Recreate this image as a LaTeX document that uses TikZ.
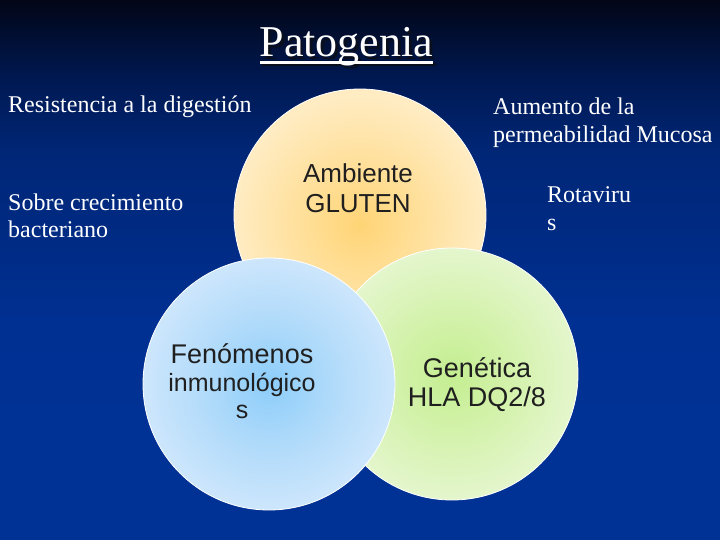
\documentclass[tikz,border=0pt]{standalone}
\usepackage{fontspec}
\setmainfont{Liberation Serif}
\newfontfamily\arialf{Liberation Sans}
\definecolor{bg0}{RGB}{2,6,22}
\definecolor{bg1}{RGB}{0,24,80}
\definecolor{bg2}{RGB}{0,38,118}
\definecolor{bg3}{RGB}{0,48,146}
\definecolor{bg4}{RGB}{0,50,150}
\definecolor{orA}{RGB}{255,212,118}
\definecolor{orM}{RGB}{255,224,155}
\definecolor{orB}{RGB}{255,236,195}
\definecolor{blA}{RGB}{140,205,250}
\definecolor{blM}{RGB}{175,218,250}
\definecolor{blB}{RGB}{205,230,252}
\definecolor{grA}{RGB}{196,238,145}
\definecolor{grM}{RGB}{212,242,172}
\definecolor{grB}{RGB}{228,246,205}
\definecolor{shad}{RGB}{10,15,30}
\pgfdeclareverticalshading{bgsh}{100bp}{color(0bp)=(bg4); color(25bp)=(bg4); color(45bp)=(bg3); color(61bp)=(bg2); color(68bp)=(bg1); color(75bp)=(bg0); color(100bp)=(bg0)}
\pgfdeclareradialshading{orsh}{\pgfpoint{0bp}{-2bp}}{color(0bp)=(orA); color(12bp)=(orM); color(25bp)=(orB); color(50bp)=(orB)}
\pgfdeclareradialshading{blsh}{\pgfpoint{0bp}{0bp}}{color(0bp)=(blA); color(12bp)=(blM); color(25bp)=(blB); color(50bp)=(blB)}
\pgfdeclareradialshading{grsh}{\pgfpoint{0bp}{0bp}}{color(0bp)=(grA); color(12bp)=(grM); color(25bp)=(grB); color(50bp)=(grB)}
\begin{document}
\begin{tikzpicture}[x=1pt,y=-1pt,
  lbl/.style={text=white, font=\fontsize{24}{28}\selectfont, inner sep=0pt, align=left},
  ctext/.style={font=\arialf\fontsize{26}{30}\selectfont, text=black!88, inner sep=0pt, align=center},
  venn/.style={circle, minimum size=252pt, inner sep=0pt, draw=white, line width=0.8pt},
  ttl/.style={font=\fontsize{44}{48}\selectfont, inner sep=0pt, anchor=base}]
\shade[shading=bgsh] (0,0) rectangle (720,540);
\useasboundingbox (0,0) rectangle (720,540);
% title
\node[ttl, text=shad] (titles) at (349,59.5) {Patogenia};
\fill[shad] ([yshift=-4pt]titles.base west) rectangle ([yshift=-7pt]titles.base east);
\node[ttl, text=white] (title) at (346.5,57) {Patogenia};
\fill[white] ([yshift=-4pt]title.base west) rectangle ([yshift=-7pt]title.base east);
% circles
\node[venn, shading=orsh] (amb) at (360,215) {};
\node[venn, shading=grsh] (gen) at (452,374) {};
\node[venn, shading=blsh] (inm) at (269,384) {};
% circle texts (base = last line)
\node[ctext, anchor=base] (ambt) at (358,213) {Ambiente\\GLUTEN};
\node[ctext, anchor=base, font=\arialf\fontsize{27}{29}\selectfont] (gent) at (477,406) {Genética\\HLA DQ2/8};
\node[ctext, anchor=base, font=\arialf\fontsize{25}{26.5}\selectfont] (inmt) at (242,418) {{\fontsize{27}{27}\selectfont Fenómenos}\\[2pt]inmunológico\\s};
% outside labels
\node[lbl, anchor=base west] (res) at (8,113) {Resistencia a la digestión};
\node[lbl, anchor=base west, font=\fontsize{24}{27}\selectfont] (sob) at (8,237) {Sobre crecimiento\\bacteriano};
\node[lbl, anchor=base west] (aum) at (493,143) {Aumento de la\\permeabilidad Mucosa};
\node[lbl, anchor=base west] (rot) at (547,230) {Rotaviru\\s};
\end{tikzpicture}
\end{document}
